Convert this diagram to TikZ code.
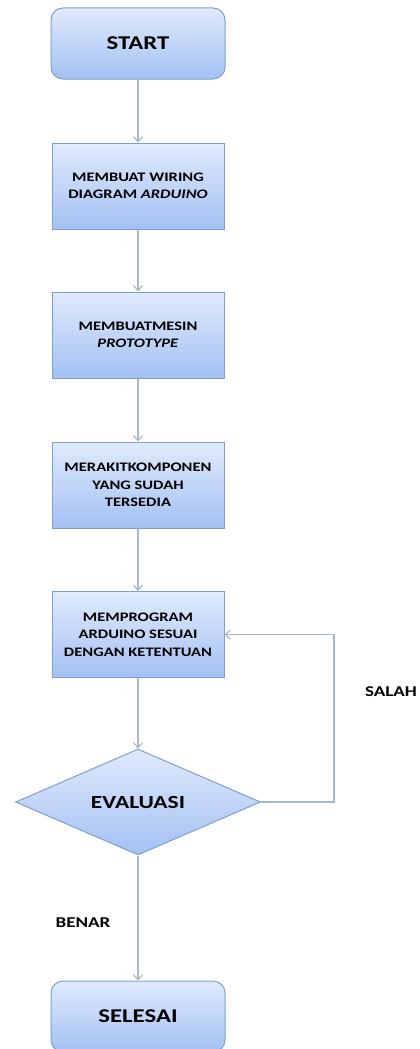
\documentclass[tikz,border=0pt]{standalone}
\usepackage{fontspec}
\setmainfont[FakeStretch=1.27]{Carlito}
\usetikzlibrary{shapes.geometric,arrows.meta}
\definecolor{boxtop}{HTML}{E0EAFC}
\definecolor{boxbot}{HTML}{A3C1F3}
\definecolor{boxline}{HTML}{7F9FCF}
\definecolor{arrowc}{HTML}{A9B9CD}
\tikzset{
  base/.style={draw=boxline, line width=1pt, top color=boxtop, bottom color=boxbot, font=\bfseries, text=black, inner sep=0pt},
  term/.style={base, rounded corners=12pt, minimum width=174pt, minimum height=71pt, font=\bfseries\fontsize{19.5}{24}\selectfont},
  proc/.style={base, minimum width=172pt, minimum height=86pt, align=center, font=\bfseries\fontsize{13}{17.5}\selectfont},
  dec/.style={base, diamond, shape aspect=2.3, minimum width=245pt, minimum height=106pt, font=\bfseries\fontsize{18.5}{22}\selectfont},
  lab/.style={font=\bfseries\fontsize{15}{18}\selectfont, inner sep=0pt},
  conn/.style={draw=arrowc, line width=1.2pt, -{Straight Barb[length=5pt,width=9pt]}}
}
\begin{document}
\begin{tikzpicture}[x=1pt,y=-1pt]
\useasboundingbox (0,0) rectangle (420,1049);
\node[term] (start) at (138,43.5) {START};
\node[proc] (b2) at (138,186) {MEMBUAT WIRING\\DIAGRAM \textit{ARDUINO}};
\node[proc] (b3) at (138,335) {MEMBUATMESIN\\\textit{PROTOTYPE}};
\node[proc] (b4) at (138,485) {MERAKITKOMPONEN\\YANG SUDAH\\TERSEDIA};
\node[proc] (b5) at (138,634.5) {MEMPROGRAM\\ARDUINO SESUAI\\DENGAN KETENTUAN};
\node[dec] (dia) at (138,802) {EVALUASI};
\node[term] (end) at (138,1016.5) {SELESAI};
\coordinate (fb) at (334,634.5);
\node[lab] (salah) at (391,692) {SALAH};
\node[lab] (benar) at (83,923) {BENAR};
\draw[conn] (start) -- (b2);
\draw[conn] (b2) -- (b3);
\draw[conn] (b3) -- (b4);
\draw[conn] (b4) -- (b5);
\draw[conn] (b5) -- (dia);
\draw[conn] (dia.east) -| (fb) -- (b5.east);
\draw[conn] (dia) -- (end);
\end{tikzpicture}
\end{document}
